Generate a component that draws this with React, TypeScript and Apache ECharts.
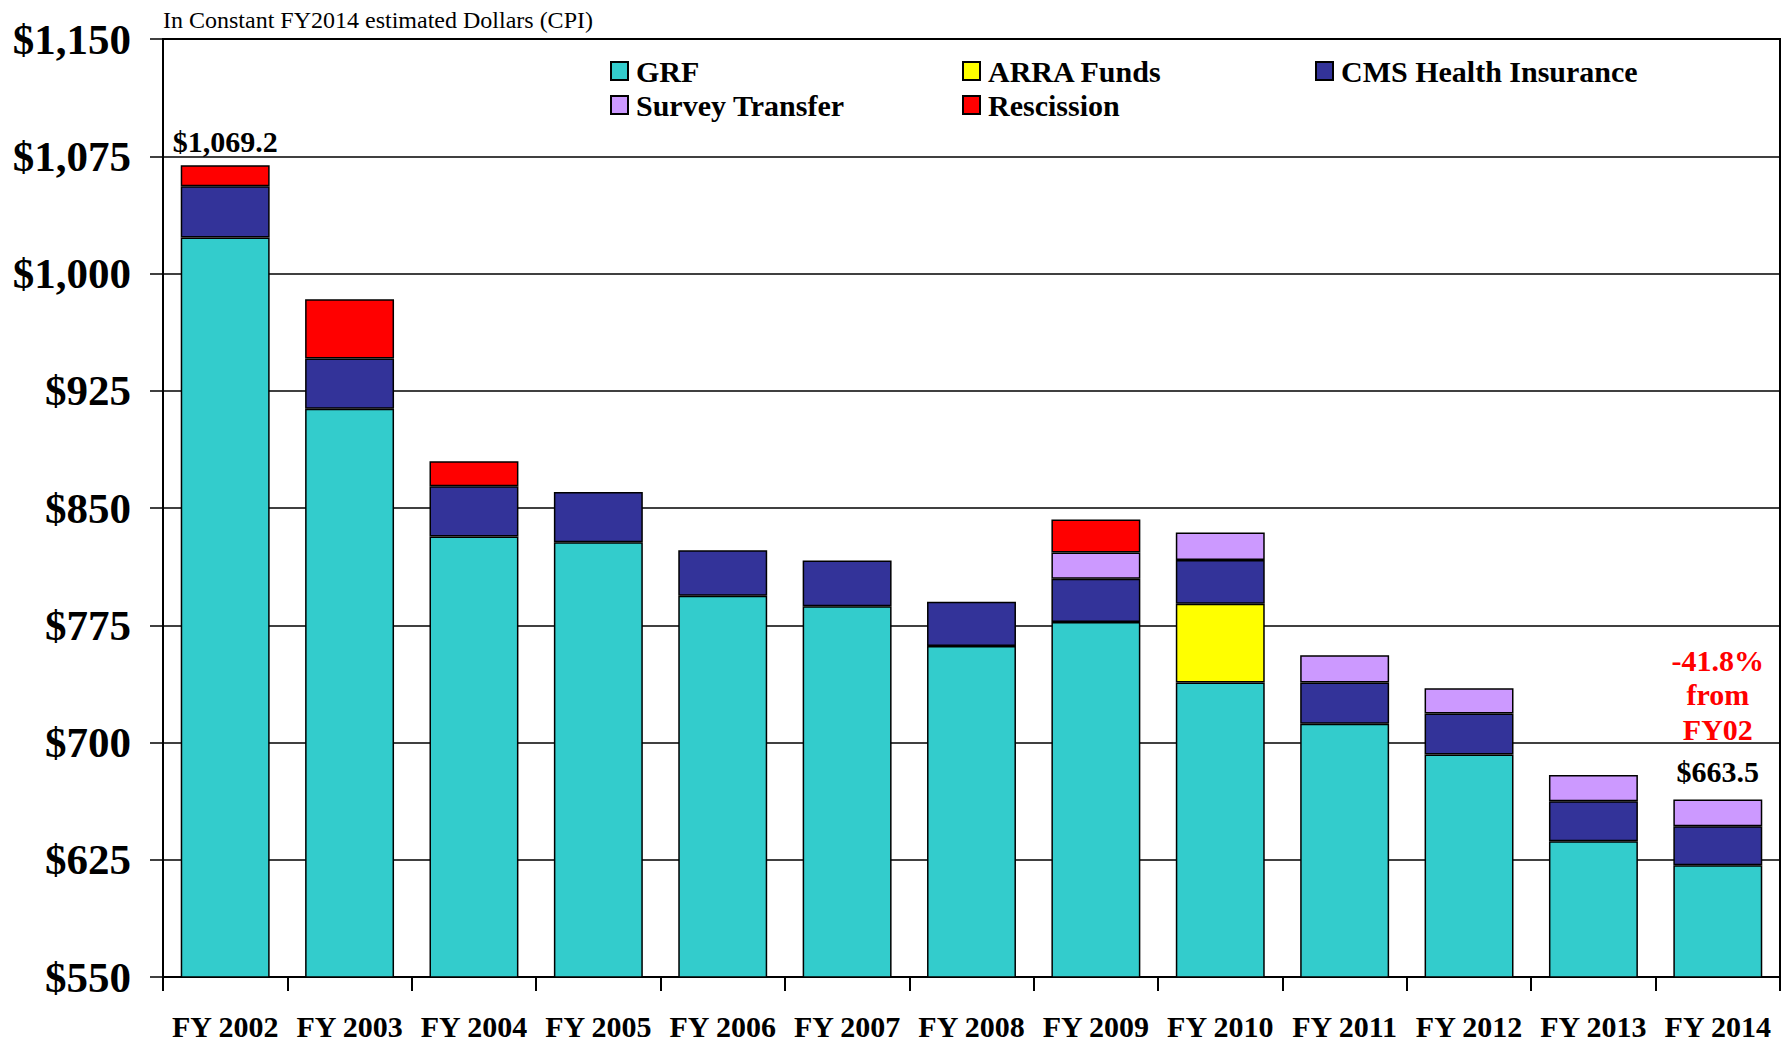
import React, { useEffect, useRef } from 'react';
import * as echarts from 'echarts';

const categories = ['FY 2002', 'FY 2003', 'FY 2004', 'FY 2005', 'FY 2006', 'FY 2007', 'FY 2008', 'FY 2009', 'FY 2010', 'FY 2011', 'FY 2012', 'FY 2013', 'FY 2014'];
const grf = [1023, 913.5, 831.8, 828.1, 793.8, 787.2, 761.7, 777, 738.3, 712, 692.3, 636.9, 621.5];
const arra = [null, null, null, null, null, null, null, null, 50.4, null, null, null, null];
const cms = [32.8, 32.1, 32.1, 32.1, 29.2, 29.2, 28.4, 27.7, 28.1, 26.3, 26.3, 25.5, 24.9];
const survey = [null, null, null, null, null, null, null, 16.8, 17.6, 17.5, 16.1, 16.8, 17.1];
const rescission = [13.4, 38, 16, null, null, null, null, 21.2, null, null, null, null, null];

const seriesNames = ['GRF', 'ARRA Funds', 'CMS Health Insurance', 'Survey Transfer', 'Rescission'];
const seriesColors = ['#33CCCC', '#FFFF00', '#333399', '#CC99FF', '#FF0000'];
const labeledIndices = [0, 12];
const changeNote = ['-41.8%', 'from', 'FY02'];
const subtitle = 'In Constant FY2014 estimated Dollars (CPI)';

const FONT = '"Liberation Serif", "Times New Roman", serif';

export default function App() {
  const ref = useRef<HTMLDivElement>(null);
  useEffect(() => {
    const chart = echarts.init(ref.current!, null, { renderer: 'svg' });
    const all = [grf, arra, cms, survey, rescission];
    const totals = categories.map((_, i) => all.reduce((s, a) => s + ((a[i] as number) ?? 0), 0));
    const topSeries = categories.map((_, i) => {
      let t = 0;
      all.forEach((a, k) => { if (a[i] != null) t = k; });
      return t;
    });
    const fmtTotal = (v: number) => '$' + v.toLocaleString('en-US', { minimumFractionDigits: 1, maximumFractionDigits: 1 });

    const series = all.map((arr, k) => ({
      name: seriesNames[k],
      type: 'bar',
      stack: 'total',
      barWidth: '71.5%',
      itemStyle: { color: seriesColors[k], borderColor: '#000', borderWidth: 1.5 },
      data: arr.map((v, i) => {
        if (v == null) return '-';
        if (labeledIndices.includes(i) && topSeries[i] === k) {
          if (i === categories.length - 1) {
            return {
              value: v,
              label: {
                show: true, position: 'top', distance: 3,
                formatter: changeNote.map((s) => `{r|${s}}`).join('\n') + `\n{b|${fmtTotal(totals[i])}}`,
                rich: {
                  r: { color: '#FF0000', fontSize: 30, fontWeight: 'bold', fontFamily: FONT, lineHeight: 34.5, align: 'center' },
                  b: { color: '#000', fontSize: 30, fontWeight: 'bold', fontFamily: FONT, lineHeight: 50, align: 'center' },
                },
              },
            };
          }
          return {
            value: v,
            label: {
              show: true, position: 'top', distance: 9,
              formatter: fmtTotal(totals[i]),
              color: '#000', fontSize: 30, fontWeight: 'bold', fontFamily: FONT,
            },
          };
        }
        return v;
      }),
    }));

    const legendPos = [
      { left: 610, top: 56 },
      { left: 962, top: 56 },
      { left: 1315, top: 56 },
      { left: 610, top: 90 },
      { left: 962, top: 90 },
    ];
    const legendOrder = ['GRF', 'ARRA Funds', 'CMS Health Insurance', 'Survey Transfer', 'Rescission'];
    const legends = legendOrder.map((name, k) => ({
      data: [name],
      left: legendPos[k].left,
      top: legendPos[k].top,
      padding: 0,
      icon: 'rect',
      itemWidth: 17,
      itemHeight: 18,
      selectedMode: false,
      textStyle: { color: '#000', fontSize: 30, fontWeight: 'bold', fontFamily: FONT, padding: [0, 0, 0, 3] },
    }));

    chart.setOption({
      animation: false,
      backgroundColor: '#fff',
      title: {
        text: subtitle, left: 158, top: 3,
        textStyle: { fontFamily: FONT, fontSize: 24, fontWeight: 'normal', color: '#000' },
      },
      legend: legends,
      grid: { left: 163, right: 11, top: 39, bottom: 63, show: true, borderColor: '#000', borderWidth: 2, backgroundColor: 'transparent' },
      xAxis: {
        type: 'category',
        data: categories,
        axisLine: { lineStyle: { color: '#000', width: 2 } },
        axisTick: { show: true, interval: 0, length: 14, lineStyle: { color: '#000', width: 2 } },
        axisLabel: { interval: 0, margin: 34, color: '#000', fontSize: 30, fontWeight: 'bold', fontFamily: FONT },
      },
      yAxis: {
        type: 'value',
        min: 550, max: 1150, interval: 75,
        axisLine: { show: true, lineStyle: { color: '#000', width: 2 } },
        axisTick: { show: true, length: 13, lineStyle: { color: '#000', width: 1.5 } },
        splitLine: { show: true, lineStyle: { color: '#000', width: 1.5 } },
        axisLabel: {
          margin: 32, color: '#000', fontSize: 43, fontWeight: 'bold', fontFamily: FONT,
          formatter: (v: number) => '$' + v.toLocaleString('en-US'),
        },
      },
      series,
    });
    return () => chart.dispose();
  }, []);
  return <div ref={ref} style={{ position: 'fixed', left: 0, top: 0, width: 1791, height: 1041 }} />;
}
